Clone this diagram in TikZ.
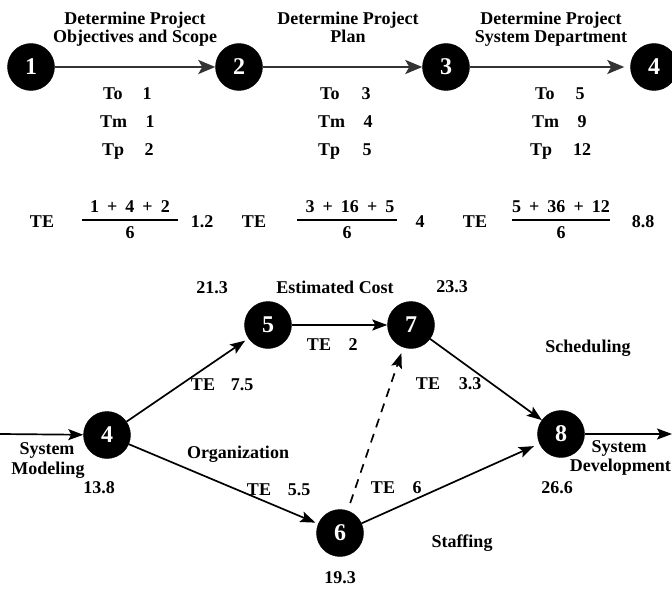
\documentclass[tikz,border=0pt]{standalone}
\usepackage{fontspec}
\setmainfont{Liberation Serif}
\usetikzlibrary{arrows.meta}
\begin{document}
\begin{tikzpicture}[x=1pt,y=-1pt,
  ev/.style={circle,fill=black,draw=black,minimum size=47pt,inner sep=0pt,text=white,font=\bfseries\fontsize{24}{24}\selectfont},
  lbl/.style={inner sep=0pt,font=\bfseries\fontsize{18}{18}\selectfont},
  toparr/.style={line width=2.4pt,draw=black!80,-{Stealth[length=17pt,width=14pt,inset=4pt]}},
  arr/.style={line width=1.7pt,-{Stealth[length=15pt,width=11pt,inset=3pt]}},
  dasharr/.style={arr,dash pattern=on 9pt off 7pt},
  bar/.style={line width=1.2pt}
]
\useasboundingbox (0,0) rectangle (672,591);
\fill[white] (0,0) rectangle (672,591);

% ---------- top row ----------
\node[ev] (n1) at (31,67) {1};
\node[ev] (n2) at (239,67) {2};
\node[ev] (n3) at (446,67) {3};
\node[ev] (n4t) at (654,67) {4};
\draw[toparr] (n1) -- (n2);
\draw[toparr] (n2) -- (n3);
\draw[toparr,shorten >=6pt] (n3) -- (n4t);

\node[lbl,align=center,anchor=north] (t1) at (135,12) {Determine Project\\Objectives and Scope};
\node[lbl,align=center,anchor=north] (t2) at (348,12) {Determine Project\\Plan};
\node[lbl,align=center,anchor=north] (t3) at (551,12) {Determine Project\\System Department};

% To / Tm / Tp
\node[lbl,anchor=base west] (a1) at (103,100) {To};
\node[lbl,anchor=base west] (b1) at (100,128) {Tm};
\node[lbl,anchor=base west] (c1) at (102,156) {Tp};
\node[lbl,anchor=base] (av1) at (147,100) {1};
\node[lbl,anchor=base] (bv1) at (150,128) {1};
\node[lbl,anchor=base] (cv1) at (149,156) {2};

\node[lbl,anchor=base west] (a2) at (320,100) {To};
\node[lbl,anchor=base west] (b2) at (318,128) {Tm};
\node[lbl,anchor=base west] (c2) at (318,156) {Tp};
\node[lbl,anchor=base] (av2) at (366,100) {3};
\node[lbl,anchor=base] (bv2) at (368,128) {4};
\node[lbl,anchor=base] (cv2) at (367,156) {5};

\node[lbl,anchor=base west] (a3) at (535,100) {To};
\node[lbl,anchor=base west] (b3) at (532,128) {Tm};
\node[lbl,anchor=base west] (c3) at (530,156) {Tp};
\node[lbl,anchor=base] (av3) at (580,100) {5};
\node[lbl,anchor=base] (bv3) at (582,128) {9};
\node[lbl,anchor=base] (cv3) at (582,156) {12};

% TE fractions
\node[lbl,anchor=base] (te1) at (42,227) {TE};
\node[lbl,anchor=base] (num1) at (130,212) {1\hspace{8pt}+\hspace{8pt}4\hspace{8pt}+\hspace{8pt}2};
\draw[bar] (82,220) coordinate (f1l) -- (178,220) coordinate (f1r);
\node[lbl,anchor=base] (den1) at (130,238) {6};
\node[lbl,anchor=base] (r1) at (202,227) {1.2};

\node[lbl,anchor=base] (te2) at (254,227) {TE};
\node[lbl,anchor=base] (num2) at (350,212) {3\hspace{8pt}+\hspace{8pt}16\hspace{8pt}+\hspace{8pt}5};
\draw[bar] (297,220) coordinate (f2l) -- (397,220) coordinate (f2r);
\node[lbl,anchor=base] (den2) at (347,238) {6};
\node[lbl,anchor=base] (r2) at (420,227) {4};

\node[lbl,anchor=base] (te3) at (475,227) {TE};
\node[lbl,anchor=base] (num3) at (561,212) {5\hspace{8pt}+\hspace{8pt}36\hspace{8pt}+\hspace{8pt}12};
\draw[bar] (512,220) coordinate (f3l) -- (610,220) coordinate (f3r);
\node[lbl,anchor=base] (den3) at (561,238) {6};
\node[lbl,anchor=base] (r3) at (643,227) {8.8};

% ---------- network ----------
\node[ev] (b4) at (107,435) {4};
\node[ev] (b5) at (268,325) {5};
\node[ev] (b6) at (340,533) {6};
\node[ev] (b7) at (411,325) {7};
\node[ev] (b8) at (561,434) {8};
\coordinate (inS) at (0,434);
\coordinate (outE) at (672,434);

\draw[arr] (inS) -- (b4);
\draw[arr,shorten >=4pt] (b4) -- (b5);
\draw[arr,shorten >=3pt] (b4) -- (b6);
\draw[arr] (b5) -- (b7);
\draw[arr] (b7) -- (b8);
\draw[arr,shorten >=6pt] (b6) -- (b8);
\draw[dasharr,shorten <=8pt,shorten >=6pt] (b6) -- (b7);
\draw[arr] (b8) -- (outE);

% labels
\node[lbl,anchor=base] (l213) at (212,293) {21.3};
\node[lbl,anchor=base] (lcost) at (335,293) {Estimated Cost};
\node[lbl,anchor=base] (l233) at (452,292) {23.3};
\node[lbl,anchor=base] (lte57a) at (319,350) {TE};
\node[lbl,anchor=base] (lte57b) at (353,350) {2};
\node[lbl,anchor=base] (lsched) at (588,352) {Scheduling};
\node[lbl,anchor=base] (lte45a) at (203,390) {TE};
\node[lbl,anchor=base] (lte45b) at (242,390) {7.5};
\node[lbl,anchor=base] (lte78a) at (428,389) {TE};
\node[lbl,anchor=base] (lte78b) at (470,389) {3.3};
\node[lbl,anchor=base] (lsys1) at (47,454) {System};
\node[lbl,anchor=base] (lmod) at (48,474) {Modeling};
\node[lbl,anchor=base] (l138) at (99,493) {13.8};
\node[lbl,anchor=base] (lorg) at (238,458) {Organization};
\node[lbl,anchor=base] (lte46a) at (259,495) {TE};
\node[lbl,anchor=base] (lte46b) at (299,495) {5.5};
\node[lbl,anchor=base] (lte68a) at (383,493) {TE};
\node[lbl,anchor=base] (lte68b) at (417,493) {6};
\node[lbl,anchor=base] (l266) at (557,493) {26.6};
\node[lbl,anchor=base] (lsys2) at (619,452) {System};
\node[lbl,anchor=base east] (ldev) at (671,471) {Development};
\node[lbl,anchor=base] (lstaff) at (462,547) {Staffing};
\node[lbl,anchor=base] (l193) at (340,583) {19.3};
\end{tikzpicture}
\end{document}
